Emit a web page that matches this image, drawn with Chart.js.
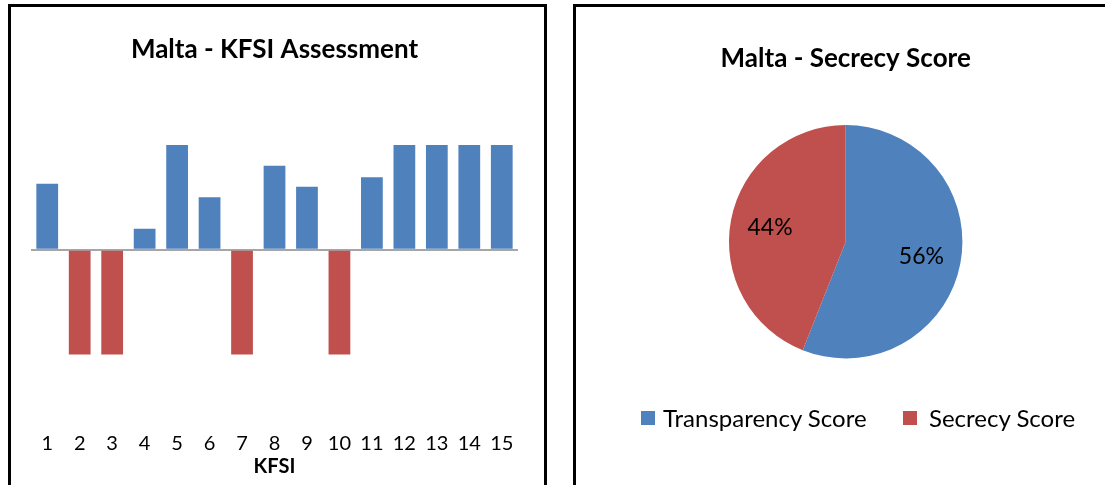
<!DOCTYPE html>
<html>
<head>
<meta charset="utf-8">
<script src="https://cdn.jsdelivr.net/npm/chart.js@4/dist/chart.umd.min.js"></script>
<style>
  html, body { margin:0; padding:0; background:#fff; width:1105px; height:485px; overflow:hidden; }
  .panel { position:absolute; box-sizing:border-box; border:3px solid #000; border-bottom:none; height:600px; pointer-events:none; }
  #leftPanel { left:8px; top:4px; width:539px; }
  #rightPanel { left:573px; top:4px; width:600px; }
  canvas { position:absolute; }
  #barChart { left:11px; top:7px; }
  #pieChart { left:577px; top:7px; }
  .legend-item { position:absolute; top:406px; height:24px; display:flex; align-items:center;
                 font:24px/24px Lato, "Open Sans", sans-serif; color:#000; white-space:nowrap; }
  .legend-item i { display:inline-block; width:14px; height:14px; }
  #lg0 { left:641px; } #lg0 i { margin-right:8px; }
  #lg1 { left:903px; } #lg1 i { margin-right:12px; }
</style>
</head>
<body>
<canvas id="barChart" width="532" height="478"></canvas>
<canvas id="pieChart" width="528" height="478"></canvas>
<div class="legend-item" id="lg0"></div>
<div class="legend-item" id="lg1"></div>
<div class="panel" id="leftPanel"></div>
<div class="panel" id="rightPanel"></div>
<script>
// KFSI indicators 1..15
const kfsiLabels = ['1','2','3','4','5','6','7','8','9','10','11','12','13','14','15'];
// blue = transparent (positive), red = secret (negative)
const transparentVals = [0.63, null, null, 0.2, 1, 0.5, null, 0.8, 0.6, null, 0.69, 1, 1, 1, 1];
const secretVals = [null, -1, -1, null, null, null, -1, null, null, -1, null, null, null, null, null];

const pieLabels = ['Transparency Score', 'Secrecy Score'];
const pieVals = [56, 44];

const BLUE = '#4F81BD';
const RED = '#C0504D';
const FONT = 'Lato, "Open Sans", sans-serif';

Chart.defaults.font.family = FONT;
Chart.defaults.color = '#000';

new Chart(document.getElementById('barChart'), {
  type: 'bar',
  data: {
    labels: kfsiLabels,
    datasets: [
      { data: transparentVals, backgroundColor: BLUE, barPercentage: 0.67, categoryPercentage: 1 },
      { data: secretVals, backgroundColor: RED, barPercentage: 0.67, categoryPercentage: 1 }
    ]
  },
  options: {
    responsive: false,
    animation: false,
    layout: { padding: { left: 20, right: 25, top: 0, bottom: 6 } },
    plugins: {
      legend: { display: false },
      tooltip: { enabled: false },
      title: {
        display: true,
        text: 'Malta - KFSI Assessment',
        color: '#000',
        font: { size: 26, weight: 'bold' },
        padding: { top: 26.9, bottom: 27.4 }
      }
    },
    scales: {
      x: {
        stacked: true,
        grid: { display: false, drawTicks: false },
        border: { display: false },
        ticks: { color: '#000', font: { size: 20, lineHeight: 1.1 }, padding: 0, autoSkip: false, maxRotation: 0 },
        title: { display: true, text: 'KFSI', color: '#000', font: { size: 20, weight: 'bold' }, padding: { top: 0, bottom: 0 } }
      },
      y: {
        stacked: true,
        min: -1.75,
        max: 1.5,
        ticks: { display: false, stepSize: 0.5 },
        border: { display: false },
        grid: {
          drawTicks: false,
          lineWidth: 2,
          color: c => (c.tick && c.tick.value === 0) ? '#a6a6a6' : 'rgba(0,0,0,0)'
        }
      }
    }
  }
});

// percentage labels inside pie slices
const pieLabelPlugin = {
  id: 'pieLabelPlugin',
  afterDatasetsDraw(chart) {
    const ctx = chart.ctx;
    const vals = chart.data.datasets[0].data;
    const total = vals.reduce((a, b) => a + b, 0);
    ctx.save();
    ctx.font = '23px ' + FONT;
    ctx.fillStyle = '#000';
    ctx.textAlign = 'center';
    ctx.textBaseline = 'middle';
    chart.getDatasetMeta(0).data.forEach((arc, i) => {
      const mid = (arc.startAngle + arc.endAngle) / 2;
      const r = arc.outerRadius * 0.66;
      ctx.fillText(Math.round(vals[i] / total * 100) + '%', arc.x + Math.cos(mid) * r, arc.y + Math.sin(mid) * r);
    });
    ctx.restore();
  }
};

const pieColors = [BLUE, RED];
const pie = new Chart(document.getElementById('pieChart'), {
  type: 'pie',
  data: {
    labels: pieLabels,
    datasets: [{ data: pieVals, backgroundColor: pieColors, borderWidth: 0, radius: 116.7 }]
  },
  options: {
    responsive: false,
    animation: false,
    layout: { padding: { left: 34, right: 24.6, top: 0, bottom: 106.3 } },
    plugins: {
      tooltip: { enabled: false },
      legend: { display: false },
      title: {
        display: true,
        text: 'Malta - Secrecy Score',
        color: '#000',
        font: { size: 26, weight: 'bold' },
        padding: { top: 36.4, bottom: 30.1 }
      }
    }
  },
  plugins: [pieLabelPlugin]
});

// html legend for the pie (Excel places it off-centre from the pie)
pie.data.labels.forEach((lbl, i) => {
  const el = document.getElementById('lg' + i);
  el.innerHTML = '<i style="background:' + pieColors[i] + '"></i><span>' + lbl + '</span>';
});
</script>
</body>
</html>
